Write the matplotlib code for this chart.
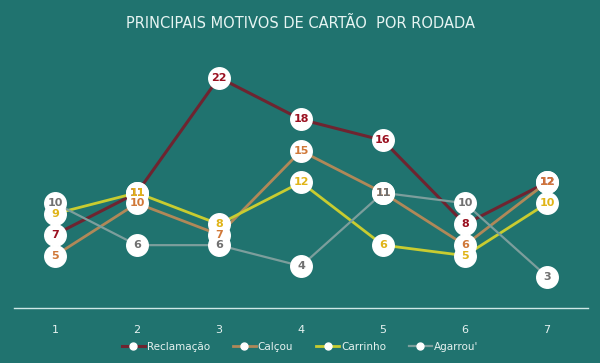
import numpy as np
import matplotlib.pyplot as plt

# Data
rodadas = [1, 2, 3, 4, 5, 6, 7]
reclamacao = [7, 11, 22, 18, 16, 8, 12]
calcou = [5, 10, 7, 15, 11, 6, 12]
carrinho = [9, 11, 8, 12, 6, 5, 10]
agarrou = [10, 6, 6, 4, 11, 10, 3]

series = [
    ('Reclamação', reclamacao, '#6e2430', '#9a1020', 2.2),
    ('Calçou', calcou, '#b08858', '#d07838', 2.0),
    ('Carrinho', carrinho, '#c8cc30', '#e0b418', 2.0),
    ('Agarrou\'', agarrou, '#7c9e9c', '#707070', 1.6),
]

narrow = ['Liberation Sans Narrow', 'DejaVu Sans']

bg = '#20736f'
fig = plt.figure(figsize=(6, 3.63), dpi=100, facecolor=bg)
ax = fig.add_axes([0.0233, 0.1515, 0.9567, 0.7215])
ax.set_facecolor(bg)

# lines, then every marker, then the labels on top
for name, vals, lc, tc, lw in series:
    ax.plot(rodadas, vals, color=lc, lw=lw, zorder=2)
    ax.plot([], [], color=lc, lw=lw, marker='o', markersize=5,
            markerfacecolor='white', markeredgecolor='white', label=name)

for name, vals, lc, tc, lw in series:
    ax.plot(rodadas, vals, ls='none', marker='o', markersize=15.5,
            markerfacecolor='white', markeredgecolor='white', zorder=3)

for i, (name, vals, lc, tc, lw) in enumerate(series):
    for x, y in zip(rodadas, vals):
        ax.text(x, y, str(y), color=tc, fontsize=8, fontweight='bold',
                family=narrow, ha='center', va='center', zorder=4 + i)

ax.set_xlim(0.5, 7.5)
ax.set_ylim(0, 25)
ax.set_yticks([])
ax.set_xticks(rodadas)
ax.tick_params(axis='x', length=0, colors='#e6f2f0', labelsize=8, pad=12)
for s in ['top', 'left', 'right']:
    ax.spines[s].set_visible(False)
ax.spines['bottom'].set_color('#cfe8e6')
ax.spines['bottom'].set_linewidth(1)

fig.suptitle('PRINCIPAIS MOTIVOS DE CARTÃO  POR RODADA', color='#e6f4f2',
             fontsize=10.5, y=0.955, family=narrow)

leg = fig.legend(loc='center', bbox_to_anchor=(0.5, 0.045), ncol=4,
                 frameon=False, prop={'family': narrow, 'size': 7.5},
                 handlelength=2.2, columnspacing=2.2, handletextpad=0.2)
for t in leg.get_texts():
    t.set_color('#e6f2f0')

fig.savefig('out.png', dpi=100, facecolor=bg)
